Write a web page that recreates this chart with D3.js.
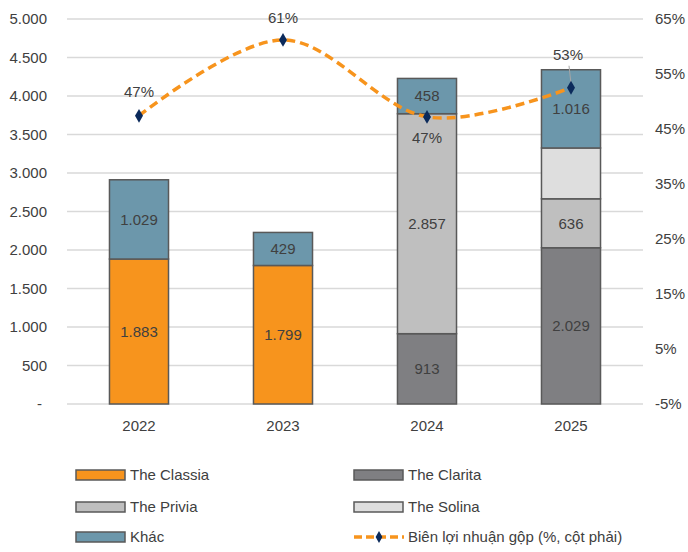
<!DOCTYPE html>
<html>
<head>
<meta charset="utf-8">
<script src="https://cdn.jsdelivr.net/npm/d3@7"></script>
<style>
  body { margin: 0; background: #fff; }
  text { font-family: "Liberation Sans", Arial, sans-serif; }
</style>
</head>
<body>
<div id="chart"></div>
<script>
// data
var years = ["2022", "2023", "2024", "2025"];
var classia = [1883, 1799, 0, 0];
var clarita = [0, 0, 913, 2029];
var privia = [0, 0, 2857, 636];
var solina = [0, 0, 0, 660];
var khac = [1029, 429, 458, 1016];
var grossMargin = [47.4, 61.2, 47.2, 52.5];
var leftTicks = [0, 500, 1000, 1500, 2000, 2500, 3000, 3500, 4000, 4500, 5000];
var rightTicks = [-5, 5, 15, 25, 35, 45, 55, 65];

var seriesNames = ["The Classia", "The Clarita", "The Privia", "The Solina", "Khác"];
var seriesKeys = ["classia", "clarita", "privia", "solina", "khac"];
var lineName = "Biên lợi nhuận gộp (%, cột phải)";

var colors = {
  classia: "#F7941D",
  clarita: "#7F7F82",
  privia: "#BFBFBF",
  solina: "#DEDEDE",
  khac: "#6C97AB"
};

var rows = years.map(function(y, i) {
  return { year: y, classia: classia[i], clarita: clarita[i], privia: privia[i], solina: solina[i], khac: khac[i] };
});

var vn = d3.formatLocale({ decimal: ",", thousands: ".", grouping: [3], currency: ["", ""] });
var fmt = vn.format(",");

var margin = {top: 19, right: 45, bottom: 148, left: 67},
    width = 688 - margin.left - margin.right,
    height = 552 - margin.top - margin.bottom;

var svg = d3.select("#chart")
  .append("svg")
    .attr("width", 688)
    .attr("height", 552)
  .append("g")
    .attr("transform", "translate(" + margin.left + "," + margin.top + ")");

var x = d3.scaleBand()
  .domain(years)
  .range([0, width])
  .paddingInner(0.59)
  .paddingOuter(0.295);

var y = d3.scaleLinear()
  .domain([0, 5000])
  .range([height, 0]);

var y2 = d3.scaleLinear()
  .domain([-5, 65])
  .range([height, 0]);

// gridlines
svg.append("g")
  .selectAll("line")
  .data(leftTicks)
  .enter()
  .append("line")
    .attr("x1", 0)
    .attr("x2", width)
    .attr("y1", function(d) { return y(d); })
    .attr("y2", function(d) { return y(d); })
    .attr("stroke", "#D9D9D9")
    .attr("stroke-width", 1.5);

// left axis
var leftAxis = svg.append("g")
  .call(d3.axisLeft(y).tickValues(leftTicks).tickSize(0).tickPadding(20)
    .tickFormat(function(d) { return d === 0 ? "-" : fmt(d); }));
leftAxis.select(".domain").remove();
leftAxis.selectAll("text")
  .attr("fill", "#404040")
  .style("font-size", "15px")
  .attr("dx", function(d) { return d === 0 ? -5 : 0; });

// right axis
var rightAxis = svg.append("g")
  .attr("transform", "translate(" + width + ",0)")
  .call(d3.axisRight(y2).tickValues(rightTicks).tickSize(0).tickPadding(12)
    .tickFormat(function(d) { return d + "%"; }));
rightAxis.select(".domain").remove();
rightAxis.selectAll("text")
  .attr("fill", "#404040")
  .style("font-size", "15px");

// bottom axis
var bottomAxis = svg.append("g")
  .attr("transform", "translate(0," + height + ")")
  .call(d3.axisBottom(x).tickSize(0).tickPadding(16));
bottomAxis.select(".domain").remove();
bottomAxis.selectAll("text")
  .attr("fill", "#404040")
  .style("font-size", "15px");

// stacked bars
var stacked = d3.stack().keys(seriesKeys)(rows);

var layers = svg.selectAll(".layer")
  .data(stacked)
  .enter()
  .append("g")
    .attr("class", "layer")
    .attr("fill", function(d) { return colors[d.key]; });

layers.selectAll("rect")
  .data(function(d) { return d.filter(function(p) { return p[1] - p[0] > 0; }); })
  .enter()
  .append("rect")
    .attr("x", function(d) { return x(d.data.year); })
    .attr("y", function(d) { return y(d[1]); })
    .attr("width", x.bandwidth())
    .attr("height", function(d) { return y(d[0]) - y(d[1]); })
    .attr("stroke", "#595959")
    .attr("stroke-width", 1.5);

// bar value labels (Solina has none in the picture)
layers.filter(function(d) { return d.key !== "solina"; })
  .selectAll("text")
  .data(function(d) { return d.filter(function(p) { return p[1] - p[0] > 0; }); })
  .enter()
  .append("text")
    .attr("x", function(d) { return x(d.data.year) + x.bandwidth() / 2; })
    .attr("y", function(d) { return (y(d[0]) + y(d[1])) / 2; })
    .attr("dy", "0.35em")
    .attr("text-anchor", "middle")
    .attr("fill", "#404040")
    .style("font-size", "15px")
    .text(function(d) { return fmt(d[1] - d[0]); });

// margin line
var pts = years.map(function(yr, i) {
  return [x(yr) + x.bandwidth() / 2, y2(grossMargin[i])];
});

svg.append("path")
  .attr("d", d3.line().curve(d3.curveCatmullRom.alpha(0))(pts))
  .attr("fill", "none")
  .attr("stroke", "#F7941D")
  .attr("stroke-width", 3.5)
  .attr("stroke-dasharray", "9,5");

// leader line for 2025 label
svg.append("line")
  .attr("x1", pts[3][0] - 2)
  .attr("y1", pts[3][1] - 22)
  .attr("x2", pts[3][0])
  .attr("y2", pts[3][1] - 4)
  .attr("stroke", "#A6A6A6")
  .attr("stroke-width", 1);

svg.selectAll(".marker")
  .data(pts)
  .enter()
  .append("path")
    .attr("class", "marker")
    .attr("transform", function(d) { return "translate(" + d[0] + "," + d[1] + ")"; })
    .attr("d", d3.symbol().type(d3.symbolDiamond).size(55))
    .attr("fill", "#0B2A5B");

var labelOffset = [[0, -24], [0, -22], [0, 21], [-3, -33]];
svg.selectAll(".mlabel")
  .data(pts)
  .enter()
  .append("text")
    .attr("x", function(d, i) { return d[0] + labelOffset[i][0]; })
    .attr("y", function(d, i) { return d[1] + labelOffset[i][1]; })
    .attr("dy", "0.35em")
    .attr("text-anchor", "middle")
    .attr("fill", "#404040")
    .style("font-size", "15px")
    .text(function(d, i) { return Math.round(grossMargin[i]) + "%"; });

// legend
var legend = d3.select("svg").append("g");
var legendItems = [
  { name: seriesNames[0], key: "classia", col: 0, row: 0 },
  { name: seriesNames[1], key: "clarita", col: 1, row: 0 },
  { name: seriesNames[2], key: "privia", col: 0, row: 1 },
  { name: seriesNames[3], key: "solina", col: 1, row: 1 },
  { name: seriesNames[4], key: "khac", col: 0, row: 2 }
];
var colX = [76, 354], rowY = [475, 507, 537];

var li = legend.selectAll(".li")
  .data(legendItems)
  .enter()
  .append("g")
    .attr("transform", function(d) { return "translate(" + colX[d.col] + "," + rowY[d.row] + ")"; });
li.append("rect")
  .attr("x", 0)
  .attr("y", -5)
  .attr("width", 49)
  .attr("height", 10)
  .attr("fill", function(d) { return colors[d.key]; })
  .attr("stroke", "#595959")
  .attr("stroke-width", 1.5);
li.append("text")
  .attr("x", 54)
  .attr("dy", "0.35em")
  .attr("fill", "#404040")
  .style("font-size", "15px")
  .text(function(d) { return d.name; });

var ll = legend.append("g")
  .attr("transform", "translate(" + colX[1] + "," + rowY[2] + ")");
ll.append("line")
  .attr("x1", 0).attr("x2", 50)
  .attr("stroke", "#F7941D")
  .attr("stroke-width", 3.5)
  .attr("stroke-dasharray", "8,4");
ll.append("path")
  .attr("transform", "translate(25,0)")
  .attr("d", d3.symbol().type(d3.symbolDiamond).size(40))
  .attr("fill", "#0B2A5B");
ll.append("text")
  .attr("x", 54)
  .attr("dy", "0.35em")
  .attr("fill", "#404040")
  .style("font-size", "15px")
  .text(lineName);
</script>
</body>
</html>
